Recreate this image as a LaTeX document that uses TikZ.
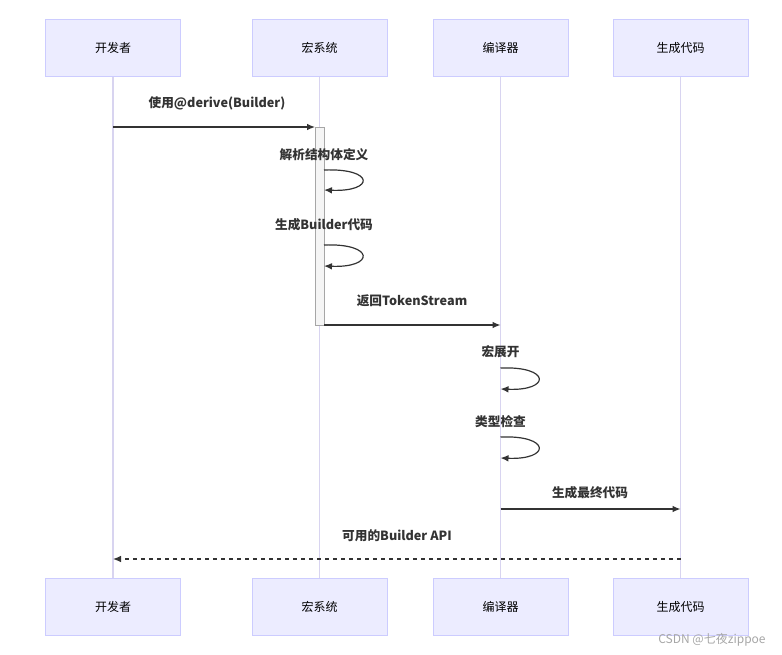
\documentclass[tikz,border=0pt]{standalone}
\usepackage{fontspec}
\setmainfont{Noto Sans CJK SC}
\usetikzlibrary{positioning, arrows.meta}
\definecolor{actfill}{HTML}{ECECFF}
\definecolor{actline}{HTML}{CCCCFF}
\definecolor{lifeline}{HTML}{D8D4F0}
\definecolor{msg}{HTML}{333333}
\begin{document}
\begin{tikzpicture}
	[x=0.75pt, y=-0.75pt,
	 actor/.style={draw=actline, fill=actfill, minimum width=101pt, minimum height=43pt, font=\fontsize{9}{11}\selectfont, text=black},
	 msgtext/.style={font=\bfseries\fontsize{9.5}{11}\selectfont, text=msg},
	 msgline/.style={draw=msg, line width=0.9pt, -{Latex[length=6pt,width=5pt]}}]
   \useasboundingbox (0,0) rectangle (782,654);
   % actors
   \foreach \name/\x/\txt in {dev/113/开发者, mac/319.5/宏系统, com/500.5/编译器, gen/680.5/生成代码} {
     \node[actor] (\name top) at (\x,48) {\txt};
     \node[actor] (\name bot) at (\x,607) {\txt};
     \draw[lifeline, line width=1pt] (\name top.south) -- (\name bot.north);
   }
   % activation
   \draw[fill=gray!8, draw=gray!70] (315,127) rectangle (324,325);
   % messages
   \coordinate (m1s) at (113,127); \coordinate (m1e) at (315,127);
   \node[msgtext] (l1) at (217,103) {使用@derive(Builder)};
   \draw[msgline] (m1s) -- (m1e);
   \node[msgtext] (l2) at (324,155) {解析结构体定义};
   \coordinate (s2a) at (324,170); \coordinate (s2b) at (324,190);
   \draw[msgline] (s2a) .. controls (375,168) and (375,192) .. (s2b);
   \node[msgtext] (l3) at (324,225) {生成Builder代码};
   \coordinate (s3a) at (324,245); \coordinate (s3b) at (324,266);
   \draw[msgline] (s3a) .. controls (375,243) and (375,268) .. (s3b);
   \node[msgtext] (l4) at (412,301) {返回TokenStream};
   \coordinate (m4s) at (324,325); \coordinate (m4e) at (500.5,325);
   \draw[msgline] (m4s) -- (m4e);
   \node[msgtext] (l5) at (500.5,352) {宏展开};
   \coordinate (s5a) at (500.5,368); \coordinate (s5b) at (500.5,389);
   \draw[msgline] (s5a) .. controls (551,366) and (551,391) .. (s5b);
   \node[msgtext] (l6) at (500.5,422) {类型检查};
   \coordinate (s6a) at (500.5,437); \coordinate (s6b) at (500.5,458);
   \draw[msgline] (s6a) .. controls (551,435) and (551,460) .. (s6b);
   \node[msgtext] (l7) at (590,493) {生成最终代码};
   \coordinate (m7s) at (500.5,509); \coordinate (m7e) at (680.5,509);
   \draw[msgline] (m7s) -- (m7e);
   \node[msgtext] (l8) at (397,536) {可用的Builder API};
   \coordinate (m8s) at (680.5,559); \coordinate (m8e) at (113,559);
   \draw[msgline, dashed] (m8s) -- (m8e);
   \node[text=gray!70, font=\fontsize{9}{11}\selectfont] (mark) at (712,640) {CSDN @七夜zippoe};
\end{tikzpicture}
\end{document}
